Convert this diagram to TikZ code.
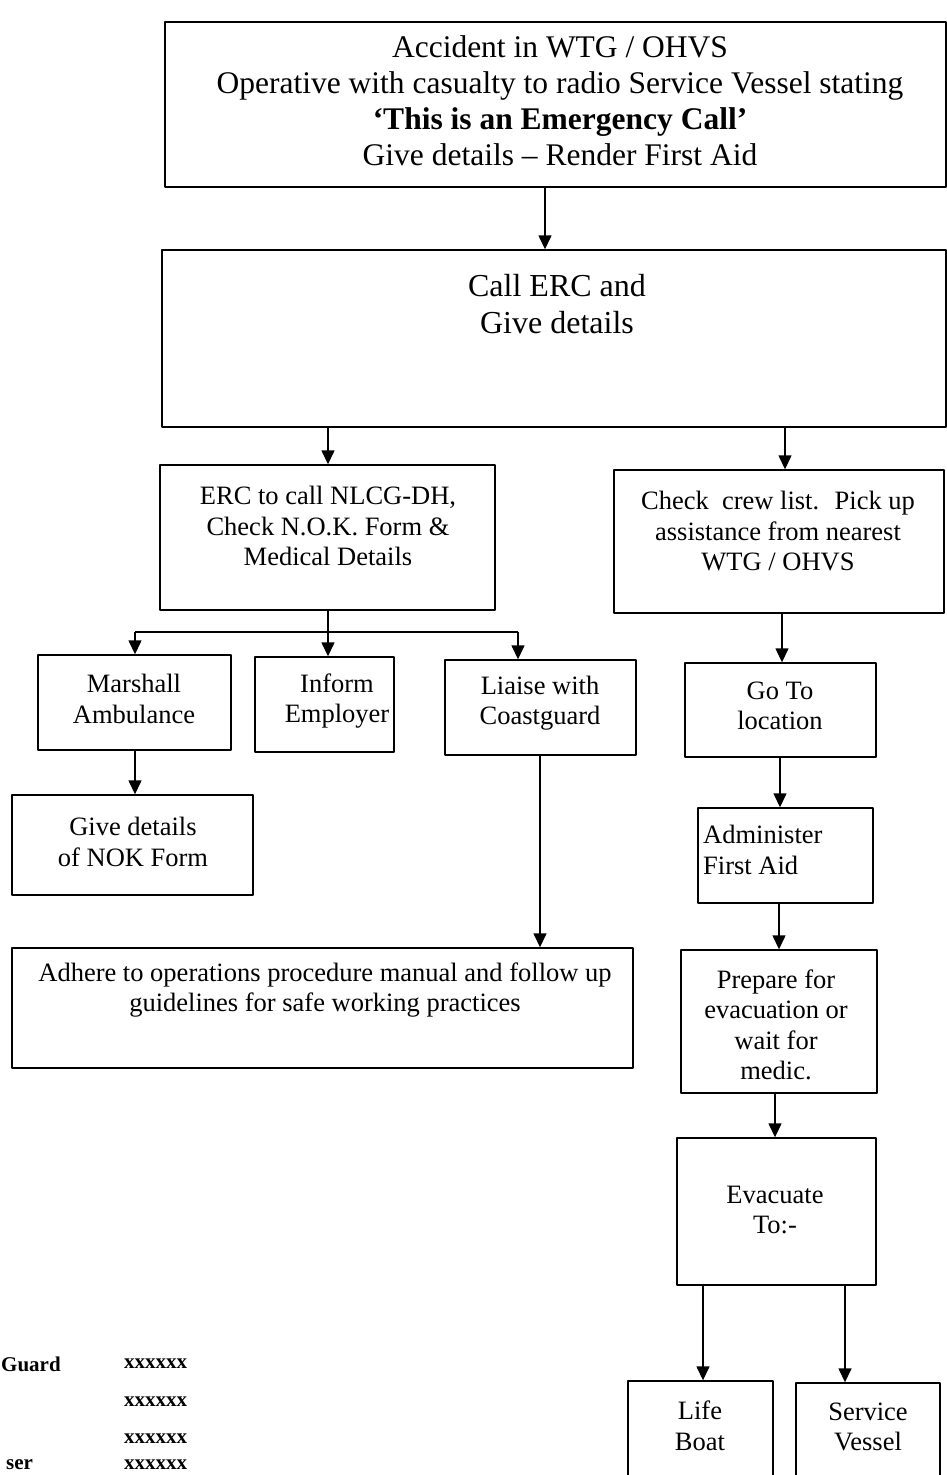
\documentclass[tikz,border=0pt]{standalone}
\usepackage{fontspec}
\setmainfont{Liberation Serif}
\usetikzlibrary{arrows.meta}
\tikzset{
  box/.style={draw, line width=1.4pt, inner sep=0pt},
  txt/.style={align=center, inner sep=0pt, font=\fontsize{26.5}{30.5}\selectfont},
  arr/.style={-{Triangle[length=14pt,width=13pt]}, line width=1.4pt},
  tel/.style={inner sep=0pt, font=\fontsize{21}{24}\selectfont\bfseries}
}
\begin{document}
\begin{tikzpicture}[x=1pt, y=-1pt, line join=round]
  \useasboundingbox (0,0) rectangle (947,1475);
  \clip (0,0) rectangle (947,1475);
  % boxes
  \node[box, minimum width=781, minimum height=165] (acc) at (555.5,104.5) {};
  \node[box, minimum width=784, minimum height=177] (call) at (554,338.5) {};
  \node[box, minimum width=335, minimum height=145] (erc) at (327.5,537.5) {};
  \node[box, minimum width=330, minimum height=143] (crew) at (779,541.5) {};
  \node[box, minimum width=193, minimum height=95] (amb) at (134.5,702.5) {};
  \node[box, minimum width=139, minimum height=95] (emp) at (324.5,704.5) {};
  \node[box, minimum width=191, minimum height=95] (cg) at (540.5,707.5) {};
  \node[box, minimum width=241, minimum height=100] (nok) at (132.5,845) {};
  \node[box, minimum width=621, minimum height=120] (adh) at (322.5,1008) {};
  \node[box, minimum width=191, minimum height=94] (loc) at (780.5,710) {};
  \node[box, minimum width=175, minimum height=95] (aid) at (785.5,855.5) {};
  \node[box, minimum width=196, minimum height=143] (prep) at (779,1021.5) {};
  \node[box, minimum width=199, minimum height=147] (evac) at (776.5,1211.5) {};
  \node[box, minimum width=145, minimum height=120] (boat) at (700.5,1441) {};
  \node[box, minimum width=144, minimum height=120] (sv) at (868,1443) {};
  % texts
  \node[txt, font=\fontsize{31.5}{36}\selectfont] (accT) at (560,101)
    {Accident in WTG / OHVS\\Operative with casualty to radio Service Vessel stating\\
     \textbf{`This is an Emergency Call'}\\Give details -- Render First Aid};
  \node[txt, font=\fontsize{32}{37}\selectfont] (callT) at (557,304) {Call ERC and\\Give details};
  \node[txt] (ercT) at (328,526) {ERC to call NLCG-DH,\\Check N.O.K. Form \&\\Medical Details};
  \node[txt] (crewT) at (778,531) {Check~ crew list.~ Pick up\\assistance from nearest\\WTG / OHVS};
  \node[txt] (ambT) at (134,699) {Marshall\\Ambulance};
  \node[txt] (empT) at (337,701) {Inform\\Employer};
  \node[txt] (cgT) at (540,703) {Liaise with\\Coastguard};
  \node[txt] (nokT) at (133,842) {Give details\\of NOK Form};
  \node[txt] (adhT) at (325,990) {Adhere to operations procedure manual and follow up\\guidelines for safe working practices};
  \node[txt] (locT) at (780,706) {Go To\\location};
  \node[txt, align=left, anchor=west] (aidT) at (703,850) {Administer\\First Aid};
  \node[txt] (prepT) at (776,1025) {Prepare for\\evacuation or\\wait for\\medic.};
  \node[txt] (evacT) at (775,1210) {Evacuate\\To:-};
  \node[txt] (boatT) at (700,1426) {Life\\Boat};
  \node[txt] (svT) at (868,1427) {Service\\Vessel};
  % phone list
  \node[tel, anchor=west] (t1) at (1,1364) {Guard};
  \node[tel, anchor=west] (n1) at (124,1364) {xxxxxx};
  \node[tel, anchor=west] (n2) at (124,1402) {xxxxxx};
  \node[tel, anchor=west] (n3) at (124,1439) {xxxxxx};
  \node[tel, anchor=west] (n4) at (124,1465) {xxxxxx};
  \node[tel, anchor=west] (t4) at (6,1465) {ser};
  % connectors
  \draw[arr] (545,0 |- acc.south) -- (545,0 |- call.north);
  \draw[arr] (328,0 |- call.south) -- (328,0 |- erc.north);
  \draw[arr] (785,0 |- call.south) -- (785,0 |- crew.north);
  \coordinate (split) at (328,632);
  \draw[line width=1.4pt] (328,0 |- erc.south) -- (split);
  \draw[line width=1.4pt] (135,0 |- split) -- (518,0 |- split);
  \draw[arr] (135,0 |- split) -- (135,0 |- amb.north);
  \draw[arr] (split) -- (328,0 |- emp.north);
  \draw[arr] (518,0 |- split) -- (518,0 |- cg.north);
  \draw[arr] (135,0 |- amb.south) -- (135,0 |- nok.north);
  \draw[arr] (540,0 |- cg.south) -- (540,0 |- adh.north);
  \draw[arr] (782,0 |- crew.south) -- (782,0 |- loc.north);
  \draw[arr] (780,0 |- loc.south) -- (780,0 |- aid.north);
  \draw[arr] (779,0 |- aid.south) -- (779,0 |- prep.north);
  \draw[arr] (775,0 |- prep.south) -- (775,0 |- evac.north);
  \draw[arr] (703,0 |- evac.south) -- (703,0 |- boat.north);
  \draw[arr] (845,0 |- evac.south) -- (845,0 |- sv.north);
\end{tikzpicture}
\end{document}
